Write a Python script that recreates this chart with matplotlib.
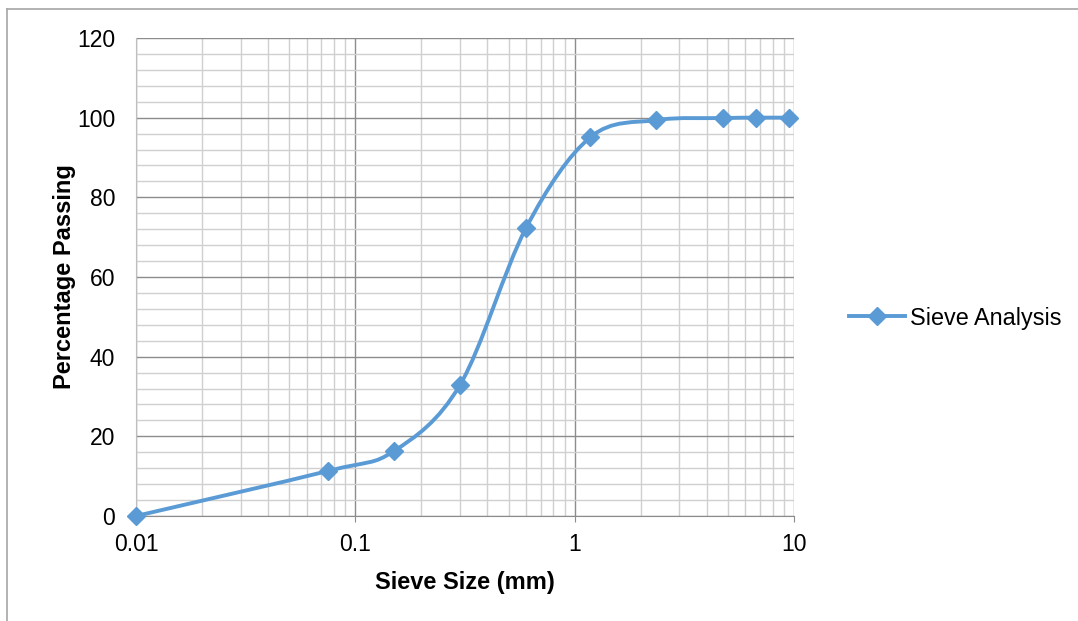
import numpy as np
import matplotlib.pyplot as plt
from matplotlib.path import Path
from matplotlib.patches import PathPatch
from matplotlib.lines import Line2D
from matplotlib.ticker import FixedLocator, NullFormatter

plt.rcParams['font.family'] = ['Liberation Sans', 'DejaVu Sans']

# sieve data
sieve_mm = [0.01, 0.075, 0.15, 0.3, 0.6, 1.18, 2.36, 4.75, 6.7, 9.5]
passing = [0.0, 11.3, 16.3, 32.9, 72.3, 95.1, 99.4, 99.9, 100.0, 100.0]
series_name = 'Sieve Analysis'

x_ticks = [0.01, 0.1, 1, 10]
x_tick_labels = ['0.01', '0.1', '1', '10']
y_ticks = [0, 20, 40, 60, 80, 100, 120]

blue = '#5B9BD5'

fig = plt.figure(figsize=(10.78, 6.21), dpi=100)
ax = fig.add_axes([136 / 1078, 105 / 621, 658 / 1078, 478 / 621])
ax.set_xscale('log')
ax.set_xlim(0.01, 10)
ax.set_ylim(0, 120)

# grid
ax.xaxis.set_major_locator(FixedLocator(x_ticks))
ax.set_xticklabels(x_tick_labels)
minor_x = [m * d for d in [0.01, 0.1, 1] for m in range(2, 10)]
ax.xaxis.set_minor_locator(FixedLocator(minor_x))
ax.xaxis.set_minor_formatter(NullFormatter())
ax.set_yticks(y_ticks)
ax.yaxis.set_minor_locator(FixedLocator([v for v in range(0, 121, 4) if v % 20]))
ax.grid(True, which='major', color='#8c8c8c', lw=1.0)
ax.grid(True, which='minor', color='#d0d0d0', lw=1.0)
ax.set_axisbelow(True)

for s in ['top', 'right']:
    ax.spines[s].set_visible(False)
ax.spines['left'].set_color('#bfbfbf')
ax.spines['bottom'].set_color('#8c8c8c')
ax.tick_params(axis='x', which='major', length=4, color='#8c8c8c', labelsize=16.5, pad=8)
ax.tick_params(axis='x', which='minor', length=0)
ax.tick_params(axis='y', which='both', length=0, labelsize=16.5, pad=15)

# smoothed line (Excel-style bezier), computed in screen-proportional units
sx = 219.3
sy = 478 / 120
u = np.log10(sieve_mm) * sx
v = np.array(passing) * sy
pts = np.column_stack([u, v])
n = len(pts)
verts = [pts[0]]
codes = [Path.MOVETO]
for i in range(n - 1):
    p0 = pts[i - 1] if i > 0 else pts[i]
    p1 = pts[i]
    p2 = pts[i + 1]
    p3 = pts[i + 2] if i + 2 < n else pts[i + 1]
    c1 = p1 + (p2 - p0) / 6
    c2 = p2 - (p3 - p1) / 6
    verts += [c1, c2, p2]
    codes += [Path.CURVE4] * 3
verts = np.array(verts)
data_verts = np.column_stack([10 ** (verts[:, 0] / sx), verts[:, 1] / sy])
patch = PathPatch(Path(data_verts, codes), facecolor='none', edgecolor=blue,
                  lw=2.8, clip_on=False, zorder=3)
ax.add_patch(patch)
ax.plot(sieve_mm, passing, linestyle='none', marker='D', ms=9, color=blue,
        zorder=4, clip_on=False)

ax.set_xlabel('Sieve Size (mm)', fontsize=17, fontweight='bold', labelpad=11)
ax.set_ylabel('Percentage Passing', fontsize=17, fontweight='bold', labelpad=1)

handle = Line2D([], [], color=blue, lw=2.8, marker='D', ms=9)
fig.legend([handle], [series_name], loc='center left',
           bbox_to_anchor=(828 / 1078, 1 - 318 / 621), frameon=False,
           fontsize=16.8, handlelength=2.4, handletextpad=0.2)

# outer chart border
fig.add_artist(Line2D([7 / 1078, 7 / 1078], [0, 1 - 9 / 621], color='#a6a6a6', lw=1.2))
fig.add_artist(Line2D([7 / 1078, 1], [1 - 9 / 621, 1 - 9 / 621], color='#a6a6a6', lw=1.2))

fig.savefig('out.png', dpi=100)
